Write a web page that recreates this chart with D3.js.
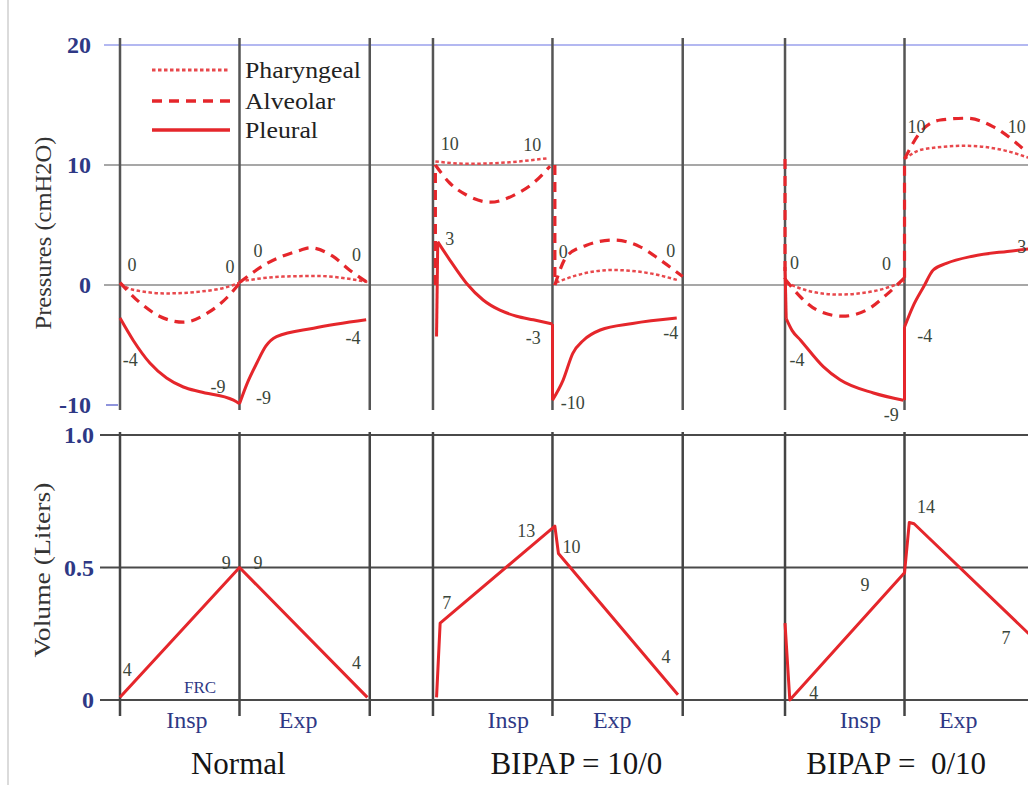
<!DOCTYPE html>
<html><head><meta charset="utf-8">
<script src="https://cdn.jsdelivr.net/npm/d3@7"></script>
<style>body{margin:0;background:#fff;} svg{display:block;}</style>
</head><body><svg id="c" width="1028" height="785"></svg>
<script>
// ---------------- DATA ----------------
const pressureTicks = [20, 10, 0, -10];
const volumeTicks = [1.0, 0.5, 0];
const panelTitles = ["Normal", "BIPAP = 10/0", "BIPAP =\u00a0 0/10"];
const cycleStarts = [0, 2.619, 5.565];      // start of each breath (insp-duration units)
const phaseBounds = [0, 1, 2.09];           // insp start, insp end/exp start, exp end (local)
const legendNames = ["Pharyngeal", "Alveolar", "Pleural"];

// Pressures (cmH2O): [local time, value]; each series = list of segments
const normalPharyngeal = [
  [[0,0.1],[0.11,-0.4],[0.39,-0.7],[0.67,-0.55],[0.95,0.0],[1.0,0.2]],
  [[1.0,0.3],[1.36,0.7],[1.65,0.75],[2.07,0.25]]
];
const normalAlveolar = [
  [[0,0.2],[0.17,-1.5],[0.33,-2.6],[0.53,-3.1],[0.73,-2.35],[0.9,-1.0],[1.0,0.15]],
  [[1.0,0.2],[1.23,1.8],[1.51,2.9],[1.59,3.1],[1.78,2.4],[1.92,1.25],[2.08,0.15]]
];
const normalPleural = [
  [[0,-2.75],[0.11,-4.6],[0.25,-6.5],[0.39,-7.75],[0.53,-8.5],[0.67,-8.9],[0.95,-9.6],[1.0,-9.9]],
  [[1.0,-9.9],[1.06,-8.3],[1.145,-6.5],[1.22,-5.1],[1.31,-4.3],[1.62,-3.6],[2.06,-2.9]]
];
const bipap100Pharyngeal = [
  [[0.02,10.3],[0.3,10.1],[0.6,10.2],[0.95,10.55]],
  [[1.03,0.2],[1.2,0.8],[1.5,1.25],[1.8,1.0],[2.05,0.4]]
];
const bipap100Alveolar = [
  [[0.02,0],[0.02,10]],
  [[0.02,10],[0.14,8.5],[0.28,7.5],[0.48,6.9],[0.7,7.6],[0.84,8.5],[0.98,9.9]],
  [[1.02,10],[1.02,0]],
  [[1.02,0],[1.12,2.4],[1.28,3.3],[1.51,3.75],[1.73,3.2],[1.9,2.1],[2.09,0.7]]
];
const bipap100Pleural = [
  [[0.03,-4.3],[0.04,3.6]],
  [[0.04,3.6],[0.14,2.1],[0.28,0.15],[0.42,-1.25],[0.56,-2.1],[0.7,-2.6],[0.84,-2.9],[1.0,-3.25]],
  [[1.0,-3.25],[1.0,-9.6]],
  [[1.0,-9.6],[1.09,-7.9],[1.17,-5.7],[1.26,-4.6],[1.4,-3.75],[1.67,-3.2],[2.04,-2.75]]
];
const bipap010Pharyngeal = [
  [[0.01,0.2],[0.2,-0.5],[0.45,-0.8],[0.75,-0.5],[1.0,0.3]],
  [[1.0,10.5],[1.15,11.3],[1.5,11.6],[1.8,11.3],[2.04,10.6]]
];
const bipap010Alveolar = [
  [[0,10.5],[0,0.5]],
  [[0,0.5],[0.13,-1.0],[0.27,-2.1],[0.48,-2.6],[0.68,-2.1],[0.85,-0.8],[1.0,0.6]],
  [[1.0,0.6],[1.0,10.5]],
  [[1.0,10.5],[1.13,12.7],[1.3,13.75],[1.52,13.9],[1.74,13.2],[1.94,11.8],[2.03,11.0]]
];
const bipap010Pleural = [
  [[0,1.5],[0.01,-2.8]],
  [[0.01,-2.8],[0.06,-3.8],[0.13,-4.6],[0.32,-6.8],[0.46,-7.9],[0.74,-9.0],[0.99,-9.6]],
  [[1.0,-9.6],[1.0,-3.5]],
  [[1.0,-3.5],[1.07,-1.8],[1.16,-0.15],[1.24,1.25],[1.35,1.8],[1.57,2.4],[1.86,2.8],[2.04,3.0]]
];

// Volume (Liters): [local time, value]
const normalVolume = [[0,0.01],[1.0,0.5],[2.07,0.01]];
const bipap100Volume = [[0.03,0.01],[0.06,0.29],[1.02,0.656],[1.05,0.553],[2.05,0.02]];
const bipap010Volume = [[0,0.29],[0.04,0.0],[1.0,0.48],[1.04,0.67],[1.08,0.665],[2.04,0.25]];

// Value annotations: [cycle, local time, value, text]
const pressureLabels = [
  [0,0.10,1.7,"0"],[0,0.92,1.5,"0"],[0,1.155,2.9,"0"],[0,1.98,2.5,"0"],
  [0,0.085,-6.25,"-4"],[0,0.82,-8.5,"-9"],[0,1.2,-9.4,"-9"],[0,1.95,-4.4,"-4"],
  [1,0.14,11.8,"10"],[1,0.83,11.7,"10"],[1,0.14,3.9,"3"],[1,1.09,2.8,"0"],
  [1,1.99,2.9,"0"],[1,0.84,-4.4,"-3"],[1,1.99,-4.0,"-4"],[1,1.17,-9.8,"-10"],
  [2,1.10,13.2,"10"],[2,1.94,13.2,"10"],[2,0.08,1.9,"0"],[2,0.85,1.8,"0"],
  [2,1.17,-4.2,"-4"],[2,0.10,-6.25,"-4"],[2,0.89,-10.8,"-9"],[2,1.98,3.2,"3"]
];
const volumeLabels = [
  [0,0.06,0.113,"4"],[0,0.89,0.517,"9"],[0,1.155,0.517,"9"],[0,1.98,0.14,"4"],
  [1,0.115,0.366,"7"],[1,0.78,0.64,"13"],[1,1.16,0.58,"10"],[1,1.95,0.163,"4"],
  [2,0.24,0.026,"4"],[2,0.67,0.434,"9"],[2,1.18,0.73,"14"],[2,1.85,0.234,"7"]
];

// ---------------- DRAWING ----------------
const svg = d3.select("#c");
const RED = "#e5262b";
const NAVY = "#2e3885";
const SERIF = "'Liberation Serif','DejaVu Serif',serif";

const x = d3.scaleLinear().domain([0, 7.7]).range([120, 120 + 7.7 * 119.5]);
const yP = d3.scaleLinear().domain([-10, 20]).range([405, 45]);
const yV = d3.scaleLinear().domain([0, 1]).range([700, 435]);

// page border line on the left
svg.append("line").attr("x1", 8).attr("x2", 8).attr("y1", 0).attr("y2", 785)
  .attr("stroke", "#cfcfcf").attr("stroke-width", 1.5);

// horizontal grid lines - pressure
pressureTicks.forEach(v => {
  if (v === -10) {
    svg.append("line").attr("x1", 106).attr("x2", 118).attr("y1", yP(v)).attr("y2", yP(v))
      .attr("stroke", "#6a70d0").attr("stroke-width", 1.5);
  } else {
    svg.append("line").attr("x1", 104).attr("x2", 1028).attr("y1", yP(v)).attr("y2", yP(v))
      .attr("stroke", v === 20 ? "#9aa0ec" : "#8a8a8a").attr("stroke-width", v === 20 ? 1.4 : 1.5);
  }
});
// horizontal grid lines - volume
volumeTicks.forEach(v => {
  svg.append("line").attr("x1", 100).attr("x2", 1028).attr("y1", yV(v)).attr("y2", yV(v))
    .attr("stroke", "#4a4a4a").attr("stroke-width", 2);
});

// vertical phase lines
cycleStarts.forEach(c => {
  phaseBounds.forEach(p => {
    const xx = x(c + p);
    svg.append("line").attr("x1", xx).attr("x2", xx).attr("y1", 38).attr("y2", 410)
      .attr("stroke", "#555").attr("stroke-width", 2.5);
    svg.append("line").attr("x1", xx).attr("x2", xx).attr("y1", 432).attr("y2", 716)
      .attr("stroke", "#444").attr("stroke-width", 2.5);
  });
});

// axes tick labels
const axP = d3.axisLeft(yP).tickValues(pressureTicks).tickSize(0).tickPadding(0).tickFormat(d => String(d));
const gP = svg.append("g").attr("transform", "translate(91,0)").call(axP);
const axV = d3.axisLeft(yV).tickValues(volumeTicks).tickSize(0).tickPadding(0)
  .tickFormat(d => d === 0 ? "0" : d3.format(".1f")(d));
const gV = svg.append("g").attr("transform", "translate(94,0)").call(axV);
[gP, gV].forEach(g => {
  g.select(".domain").remove();
  g.selectAll("text").attr("fill", NAVY).style("font-family", SERIF)
    .style("font-size", "24px").style("font-weight", "bold");
});

// axis titles
svg.append("text").attr("transform", "translate(51,233) rotate(-90)").attr("text-anchor", "middle")
  .style("font-family", SERIF).style("font-size", "24px").attr("fill", "#333")
  .attr("textLength", 193).attr("lengthAdjust", "spacingAndGlyphs").text("Pressures (cmH2O)");
svg.append("text").attr("transform", "translate(50,570) rotate(-90)").attr("text-anchor", "middle")
  .style("font-family", SERIF).style("font-size", "24px").attr("fill", "#333")
  .attr("textLength", 175).attr("lengthAdjust", "spacingAndGlyphs").text("Volume (Liters)");

// series styles
const styles = {
  Pharyngeal: { w: 2.5, dash: "3.5,2.5", color: "#e8484c" },
  Alveolar:   { w: 3.2, dash: "10,7",  color: RED },
  Pleural:    { w: 3,   dash: null,    color: RED }
};
const pressureSeries = [
  [normalPharyngeal, normalAlveolar, normalPleural],
  [bipap100Pharyngeal, bipap100Alveolar, bipap100Pleural],
  [bipap010Pharyngeal, bipap010Alveolar, bipap010Pleural]
];
pressureSeries.forEach((group, ci) => {
  group.forEach((series, si) => {
    const st = styles[legendNames[si]];
    const line = d3.line().x(d => x(cycleStarts[ci] + d[0])).y(d => yP(d[1])).curve(d3.curveMonotoneX);
    series.forEach(seg => {
      svg.append("path").attr("d", line(seg)).attr("fill", "none")
        .attr("stroke", st.color).attr("stroke-width", st.w)
        .attr("stroke-dasharray", st.dash).attr("stroke-linejoin", "round");
    });
  });
});

// volume lines
[normalVolume, bipap100Volume, bipap010Volume].forEach((vals, ci) => {
  const line = d3.line().x(d => x(cycleStarts[ci] + d[0])).y(d => yV(d[1]));
  svg.append("path").attr("d", line(vals)).attr("fill", "none")
    .attr("stroke", RED).attr("stroke-width", 3).attr("stroke-linejoin", "round");
});

// legend
const legendWidths = [116, 90, 73];
legendNames.forEach((n, i) => {
  const st = styles[n];
  const ly = [70, 101, 130][i];
  svg.append("line").attr("x1", 152).attr("x2", 230).attr("y1", ly).attr("y2", ly)
    .attr("stroke", st.color).attr("stroke-width", st.w + 0.5).attr("stroke-dasharray", st.dash);
  svg.append("text").attr("x", 245).attr("y", ly + 8).style("font-family", SERIF)
    .style("font-size", "24px").attr("fill", "#222")
    .attr("textLength", legendWidths[i]).attr("lengthAdjust", "spacingAndGlyphs").text(n);
});

// value annotations
function annot(arr, yScale) {
  arr.forEach(([c, t, v, s]) => {
    svg.append("text").attr("x", x(cycleStarts[c] + t)).attr("y", yScale(v)).attr("dy", "0.35em")
      .attr("text-anchor", "middle").style("font-family", SERIF).style("font-size", "18px")
      .attr("fill", "#3a463a").text(s);
  });
}
annot(pressureLabels, yP);
annot(volumeLabels, yV);

// FRC
svg.append("text").attr("x", x(0.67)).attr("y", 693).attr("text-anchor", "middle")
  .style("font-family", SERIF).style("font-size", "17px").attr("fill", NAVY).text("FRC");

// phase labels and panel titles
const inspCenters = [0.56, 0.63, 0.63];
const expCenters = [1.49, 1.5, 1.45];
const titleCenters = [0.99, 1.20, 0.93];
cycleStarts.forEach((c, i) => {
  svg.append("text").attr("x", x(c + inspCenters[i])).attr("y", 728).attr("text-anchor", "middle")
    .style("font-family", SERIF).style("font-size", "24px").attr("fill", NAVY).text("Insp");
  svg.append("text").attr("x", x(c + expCenters[i])).attr("y", 728).attr("text-anchor", "middle")
    .style("font-family", SERIF).style("font-size", "24px").attr("fill", NAVY).text("Exp");
  svg.append("text").attr("x", x(c + titleCenters[i])).attr("y", 774).attr("text-anchor", "middle")
    .style("font-family", SERIF).style("font-size", "31px").attr("fill", "#151515").text(panelTitles[i]);
});
</script></body></html>
